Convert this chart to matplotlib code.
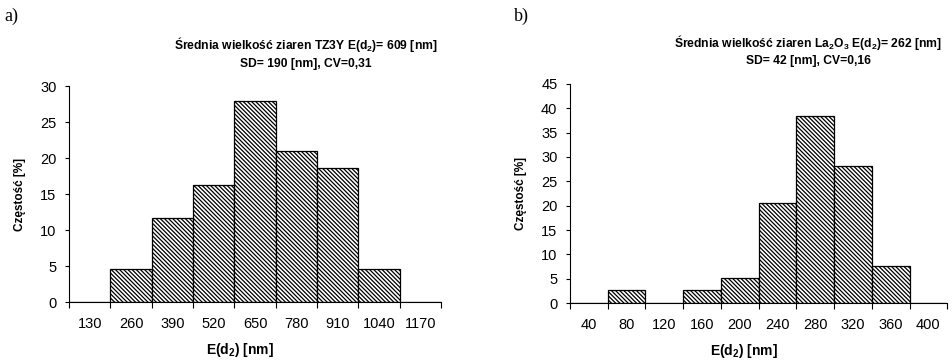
import matplotlib
matplotlib.use("Agg")
import matplotlib.pyplot as plt
from matplotlib import font_manager as fm
import numpy as np

# keep the narrow cut of Liberation Sans out of font matching
fm.fontManager.ttflist = [f for f in fm.fontManager.ttflist if 'Narrow' not in f.fname]
fm.fontManager._findfont_cached.cache_clear()

plt.rcParams['font.family'] = ['Liberation Sans', 'DejaVu Sans']
plt.rcParams['mathtext.fontset'] = 'custom'
plt.rcParams['mathtext.rm'] = 'Liberation Sans'
plt.rcParams['mathtext.bf'] = 'Liberation Sans:bold'
plt.rcParams['mathtext.default'] = 'bf'
plt.rcParams['hatch.linewidth'] = 0.9

# data
tz_labels = ['130', '260', '390', '520', '650', '780', '910', '1040', '1170']
tz_freq = [0, 4.6, 11.7, 16.3, 27.9, 21.0, 18.6, 4.6, 0]

la_labels = ['40', '80', '120', '160', '200', '240', '280', '320', '360', '400']
la_freq = [0, 2.6, 0, 2.6, 5.1, 20.5, 38.5, 28.2, 7.7, 0]

fig = plt.figure(figsize=(9.53, 3.6), dpi=100)
ax1 = fig.add_axes([0.0724, 0.161, 0.3904, 0.600])
ax2 = fig.add_axes([0.598, 0.158, 0.396, 0.609])

def draw(ax, labels, freq, ymax, title, tx):
    n = len(labels)
    x = np.arange(n)
    ax.bar(x, freq, width=1.0, facecolor='white', edgecolor='black',
           linewidth=0.9, hatch='\\' * 8)
    ax.set_xlim(-0.5, n - 0.5)
    ax.set_ylim(0, ymax)
    ax.set_yticks(np.arange(0, ymax + 1, 5))
    ax.set_xticks(np.arange(n + 1) - 0.5)
    ax.set_xticklabels([])
    ax.set_xticks(x, minor=True)
    ax.set_xticklabels(labels, minor=True)
    ax.tick_params(axis='x', which='major', direction='out', length=4, width=0.8)
    ax.tick_params(axis='x', which='minor', length=0, pad=11, labelsize=10.5)
    ax.tick_params(axis='y', direction='out', length=3, width=0.8, pad=6, labelsize=10.5)
    for s in ['top', 'right']:
        ax.spines[s].set_visible(False)
    ax.spines['left'].set_linewidth(0.8)
    ax.spines['bottom'].set_linewidth(0.8)
    ax.set_ylabel('Częstość [%]', fontsize=8.5, fontweight='bold', labelpad=10)
    ax.set_xlabel('E(d$_2$) [nm]', fontsize=10, fontweight='bold', labelpad=7, x=0.46)
    t = ax.set_title(title, fontsize=8.7, fontweight='bold', pad=14, linespacing=1.4)
    t.set_x(tx)

draw(ax1, tz_labels, tz_freq, 30,
     'Średnia wielkość ziaren TZ3Y E(d$_2$)= 609 [nm]\nSD= 190 [nm], CV=0,31', 0.637)
draw(ax2, la_labels, la_freq, 45,
     'Średnia wielkość ziaren La$_2$O$_3$ E(d$_2$)= 262 [nm]\nSD= 42 [nm], CV=0,16', 0.631)

fig.text(0.005, 0.955, 'a)', fontsize=13, family='Liberation Serif', va='center')
fig.text(0.539, 0.955, 'b)', fontsize=13, family='Liberation Serif', va='center')

fig.savefig('out.png', dpi=100)
